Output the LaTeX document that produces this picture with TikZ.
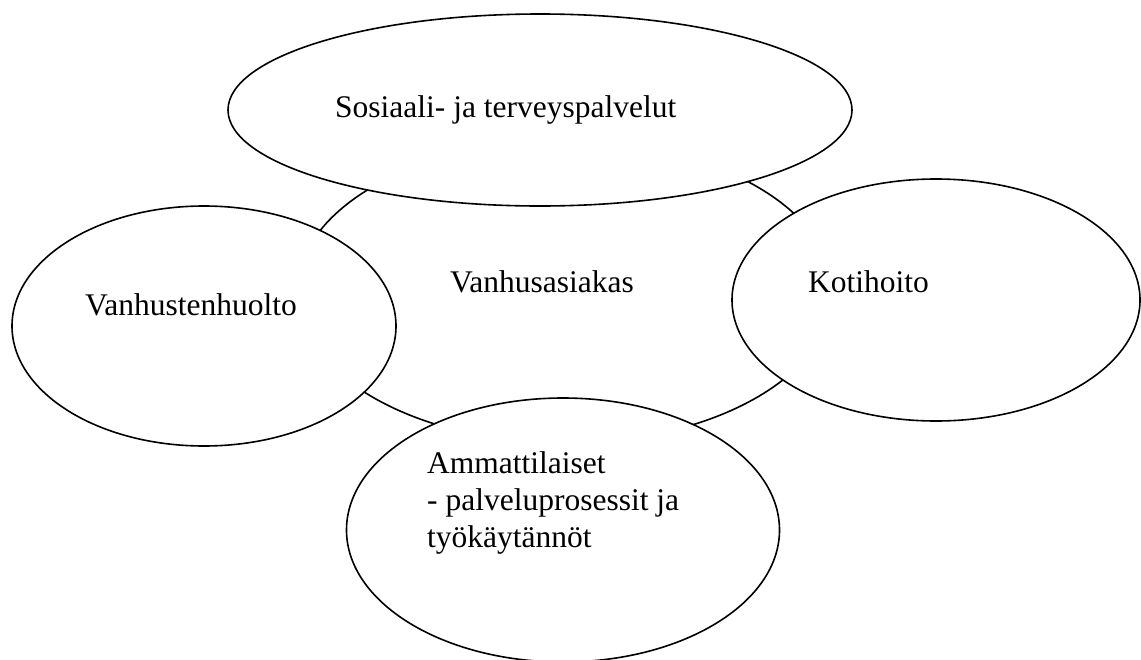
\documentclass[tikz,border=0pt]{standalone}
\usepackage{fontspec}
\setmainfont{Liberation Serif}
\usetikzlibrary{shapes.geometric}

\tikzset{
  bubble/.style={ellipse, draw, line width=1.6pt, fill=white, inner sep=0pt},
  bubbletext/.style={anchor=base west, inner sep=0pt, align=left,
    font=\fontsize{31.5}{37}\selectfont},
}

\begin{document}
\begin{tikzpicture}[x=1pt, y=-1pt]
\useasboundingbox (0,0) rectangle (1141,659);

% Define nodes
\node[bubble, minimum width=536pt, minimum height=302pt] (asiakas) at (565,292) {};
\node[bubble, minimum width=624pt, minimum height=192pt] (sote)    at (540,110) {};
\node[bubble, minimum width=384pt, minimum height=240pt] (huolto)  at (204,326) {};
\node[bubble, minimum width=408pt, minimum height=242pt] (koti)    at (936,300) {};
\node[bubble, minimum width=433pt, minimum height=264pt] (ammatti) at (563,530) {};

% Texts
\node[bubbletext] (asiakast) at (450,292) {Vanhusasiakas};
\node[bubbletext] (sotet)    at (335,117) {Sosiaali- ja terveyspalvelut};
\node[bubbletext] (huoltot)  at (85,315)  {Vanhustenhuolto};
\node[bubbletext] (kotit)    at (808,292) {Kotihoito};
\node[bubbletext] (ammattit) at (427,547) {Ammattilaiset\\- palveluprosessit ja\\työkäytännöt};

\end{tikzpicture}
\end{document}
